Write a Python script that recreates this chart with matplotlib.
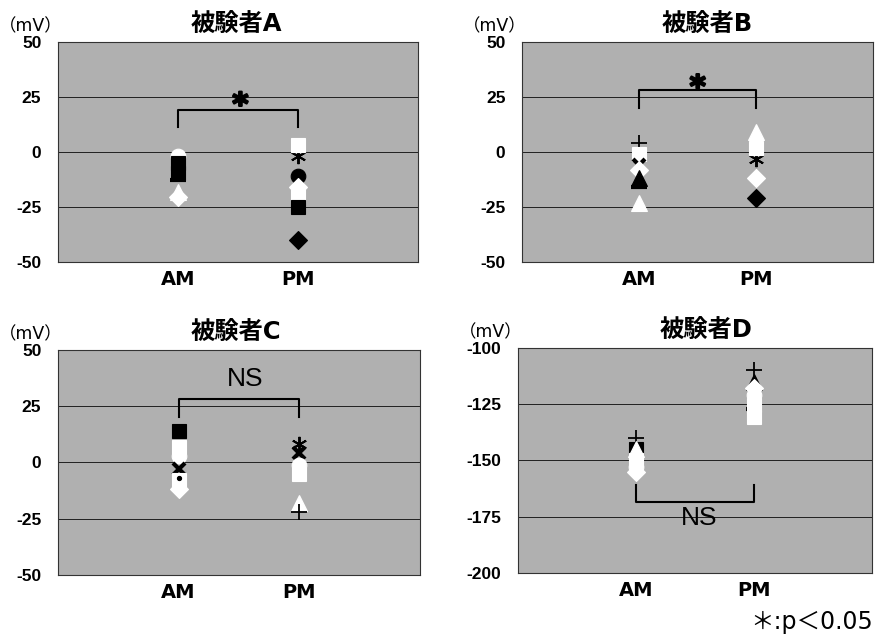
import matplotlib
matplotlib.use("Agg")
import matplotlib.pyplot as plt
import matplotlib.patheffects as pe
import numpy as np

plt.rcParams["font.family"] = ["DejaVu Sans", "Noto Sans CJK JP"]
plt.rcParams["axes.unicode_minus"] = False

# ── データ (被験者ごとの AM / PM 測定値, mV) ──────────────────────────
subjects = ["被験者A", "被験者B", "被験者C", "被験者D"]
sessions = ["AM", "PM"]

a_am = [0, -2, -5, -9.5, -12.5, -20.5, -18]
a_pm = [-2, 3, -11, -20, -16, -25, -40]
b_am = [4, -1, -6, -8, -12, -16, -23]
b_pm = [-3, 2, 9, -12, -21]
c_am = [14, 7, 3, -3, -8, -12, -7]
c_pm = [8, 4, -1, -5, -18, -22]
d_am = [-140, -145, -150, -155, -153, -145]
d_pm = [-110, -115, -118, -121, -130.5, -127, -125.5]

ylims = [(-50, 50), (-50, 50), (-50, 50), (-200, -100)]
yticks = [[-50, -25, 0, 25, 50]] * 3 + [[-200, -175, -150, -125, -100]]
bracket_base = [11.5, 20, 20, -161]
bracket_top = [19, 28, 28, -168.3]
sig_label = ["*", "*", "NS", "NS"]
sig_y = [24, 32, 37, -175.6]

# ── マーカー書式 (描画順) ─────────────────────────────────────────────
am_marks = [
    ["k.", "wo", "ks", "ks", "k_", "wD", "w^"],
    ["k+", "ws", "kx", "wD", "k^", "k_", "w^"],
    ["ks", "ws", "wo", "kx", "ws", "wD", "k."],
    ["k+", "ks", "ws", "wD", "wo", "w^"],
]
pm_marks = [
    ["k*", "ws", "ko", "ws", "wD", "ks", "kD"],
    ["k*", "ws", "w^", "wD", "kD"],
    ["k*", "kx", "wo", "ws", "w^", "k+"],
    ["k+", "k^", "wD", "wo", "ws", "k_", "ws"],
]

STYLE = {
    ".": dict(marker="o", ms=3),
    "o": dict(marker="o", ms=10.5),
    "s": dict(marker="s", ms=10),
    "D": dict(marker="D", ms=9),
    "^": dict(marker="^", ms=11),
    "x": dict(marker="x", ms=9, mew=3),
    "*": dict(marker=(6, 2, 0), ms=11, mew=1.4),
    "+": dict(marker="+", ms=12, mew=1.3),
    "_": dict(marker="_", ms=11, mew=3),
}

LATIN_BOLD = ["Liberation Sans", "DejaVu Sans"]
HEAVY = [pe.withStroke(linewidth=1.6, foreground="black")]


def draw_point(ax, x, y, code):
    color = "black" if code[0] == "k" else "white"
    st = dict(STYLE[code[1]])
    st.setdefault("mew", 0.8)
    ax.plot([x], [y], linestyle="none", color=color, mfc=color, mec=color,
            zorder=3, **st)


values_am = [a_am, b_am, c_am, d_am]
values_pm = [a_pm, b_pm, c_pm, d_pm]

# 各パネルの位置 (figure fraction)
positions = [
    [0.0662, 0.5925, 0.411, 0.342],
    [0.596, 0.5925, 0.401, 0.342],
    [0.0662, 0.1058, 0.413, 0.350],
    [0.591, 0.1089, 0.404, 0.350],
]
title_x = [0.494, 0.527, 0.493, 0.532]
sig_x = [1.52, 1.50, 1.55, 1.54]

fig = plt.figure(figsize=(8.76, 6.43), dpi=100)

for i in range(4):
    ax = fig.add_axes(positions[i])
    ax.set_facecolor("#b0b0b0")
    ax.set_xlim(0, 3)
    ax.set_ylim(*ylims[i])
    ax.set_yticks(yticks[i])
    ax.set_yticklabels([str(t) for t in yticks[i]], fontsize=12.5,
                       fontweight="bold", family=LATIN_BOLD)
    ax.set_xticks([1, 2])
    ax.set_xticklabels(sessions, fontsize=14, fontweight="bold")
    ax.tick_params(axis="y", length=0, pad=12)
    ax.tick_params(axis="x", length=0, pad=6)
    for t in yticks[i][1:-1]:
        ax.axhline(t, color="#202020", lw=0.7, zorder=1)
    for sp in ax.spines.values():
        sp.set_color("#333333")
        sp.set_linewidth(0.8)

    for v, m in zip(values_am[i], am_marks[i]):
        draw_point(ax, 1, v, m)
    for v, m in zip(values_pm[i], pm_marks[i]):
        draw_point(ax, 2, v, m)

    # 有意差ブラケット
    b0, b1 = bracket_base[i], bracket_top[i]
    ax.plot([1, 1, 2, 2], [b0, b1, b1, b0], color="black", lw=1.5, zorder=2)
    if sig_label[i] == "NS":
        ax.text(sig_x[i], sig_y[i], "NS", ha="center", va="center",
                fontsize=19, family="Liberation Sans", zorder=4)
    else:
        ax.text(sig_x[i], sig_y[i] - 3, sig_label[i], ha="center",
                va="center", fontsize=22, fontweight="bold", zorder=4,
                path_effects=HEAVY)

    ax.set_title(subjects[i], x=title_x[i], fontsize=17.5, fontweight="bold",
                 pad=7)
    ax.annotate("（mV）", xy=(0, 1), xycoords="axes fraction",
                xytext=(3.5, 5), textcoords="offset points",
                ha="right", va="bottom", fontsize=12.5)

fig.text(0.997, 0.033, "＊:p＜0.05", ha="right", va="center", fontsize=17)

fig.savefig("out.png", dpi=100)
